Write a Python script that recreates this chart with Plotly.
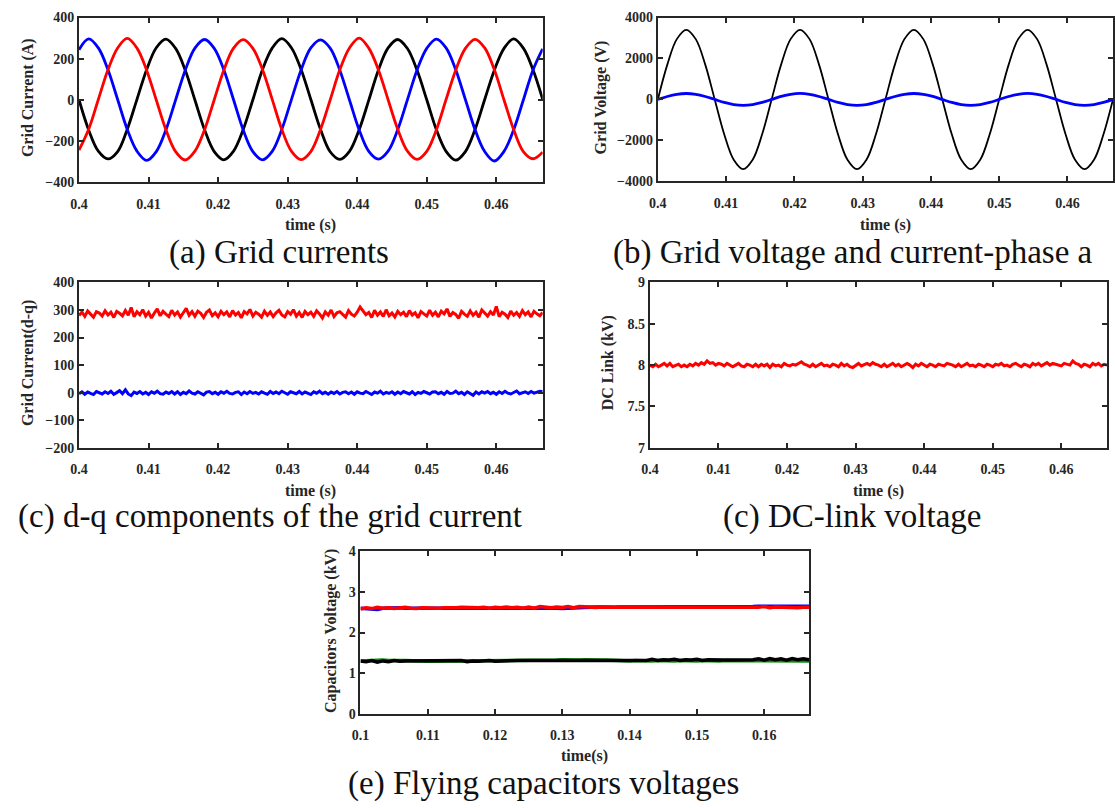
import plotly.graph_objects as go

W, H = 1115, 808

# ---------------- data ----------------
# (a) three-phase grid currents, sampled every 1/720 s from t = 0.4 s
CUR_T0, CUR_DT = 0.4, 1 / 720
ia_black = [0, -147, -250, -288, -252, -143, 2, 146, 253, 295, 250, 144,
            -1, -146, -252, -292, -250, -145, 0, 147, 251, 297, 252, 146,
            1, -144, -253, -290, -251, -146, -2, 145, 252, 293, 249, 143,
            0, -146, -251, -294, -252, -145, 1, 144, 250, 296, 251, 146,
            2]
ib_blue = [243, 296, 252, 146, 1, -145, -250, -295, -252, -146, -1, 144,
           251, 293, 250, 145, 0, -147, -252, -292, -251, -144, 2, 146,
           252, 291, 251, 144, -1, -146, -251, -289, -250, -145, 0, 145,
           250, 295, 252, 146, 1, -145, -252, -298, -251, -146, -1, 145,
           248]
ic_red = [-245, -144, 1, 146, 252, 298, 251, 144, -1, -146, -252, -293,
          -250, -146, 0, 145, 251, 292, 250, 146, 2, -145, -251, -291,
          -252, -145, -1, 146, 252, 300, 251, 145, 0, -144, -250, -290,
          -251, -146, 1, 144, 250, 294, 252, 146, -1, -145, -252, -287,
          -255]

# (b) phase-a grid voltage and current
grid_voltage = [0, 1700, 2944, 3400, 2944, 1700, 0, -1700, -2944, -3400, -2944, -1700,
                0, 1700, 2944, 3400, 2944, 1700, 0, -1700, -2944, -3400, -2944, -1700,
                0, 1700, 2944, 3400, 2944, 1700, 0, -1700, -2944, -3400, -2944, -1700,
                0, 1700, 2944, 3400, 2944, 1700, 0, -1700, -2944, -3400, -2944, -1700,
                0]
phase_a_current = [0, 145, 251, 290, 251, 145, 0, -145, -251, -290, -251, -145,
                   0, 146, 252, 292, 250, 145, 0, -146, -250, -289, -251, -144,
                   0, 145, 251, 291, 251, 146, 0, -145, -252, -290, -250, -145,
                   0, 144, 251, 293, 252, 145, 0, -146, -251, -290, -251, -145,
                   0]

# (c) d-q grid current components and (d) DC link, sampled every 1/2400 s
DQ_T0, DQ_DT = 0.4, 1 / 2400
i_d = [280, 293, 277, 296, 285, 274, 294, 289, 278, 297,
       282, 292, 273, 295, 288, 279, 298, 281, 309, 276,
       294, 283, 301, 278, 292, 271, 289, 304, 279, 295,
       285, 276, 299, 282, 293, 274, 290, 306, 281, 294,
       277, 296, 288, 273, 292, 300, 279, 290, 276, 295,
       283, 293, 275, 298, 282, 291, 272, 294, 286, 302,
       278, 292, 285, 274, 296, 281, 293, 276, 290, 299,
       282, 275, 294, 285, 301, 278, 291, 273, 295, 283,
       292, 277, 297, 286, 271, 293, 281, 300, 276, 290,
       294, 282, 274, 298, 285, 278, 292, 311, 296, 283,
       291, 273, 299, 281, 293, 277, 301, 279, 289, 275,
       295, 283, 292, 276, 298, 282, 290, 272, 294, 285,
       278, 299, 281, 292, 275, 296, 286, 304, 277, 291,
       284, 270, 295, 285, 277, 297, 281, 292, 274, 300,
       287, 278, 294, 282, 313, 276, 292, 285, 273, 296,
       281, 291, 277, 298, 283, 293, 275, 295, 286, 279,
       291]
i_q = [-4, 3, -6, 2, -3, -7, 4, -2, -5, 3,
       -3, 5, -6, 0, 7, -4, 10, -5, -11, 2,
       -3, 4, -5, 1, -7, 3, -2, 5, -4, -6,
       2, -3, 4, -5, 3, -7, 1, -4, 6, -2,
       -5, 3, -3, -8, 2, 4, -4, 1, -6, 3,
       -2, 5, -3, -5, 1, 3, -7, 2, -4, 4,
       -3, 1, -5, 3, -2, -6, 4, -3, 2, -4,
       5, -2, -6, 3, 0, -4, 4, -5, 2, -3,
       -7, 3, -2, 5, -4, 1, -6, 2, -3, 4,
       -5, 1, 3, -4, 2, -6, 3, -2, -4, 4,
       -3, -7, 2, -2, 5, -5, 1, -3, 3, -6,
       2, -4, 4, -2, -5, 3, -7, 1, -3, 4,
       -2, -5, 2, 3, -4, 1, -6, 4, -3, -2,
       5, -4, 1, -7, 3, -3, -10, 2, -5, 3,
       -2, 4, -4, 1, -6, 3, -3, 5, -2, -5,
       2, 6, -4, 1, 3, -3, 4, -2, 2, 5,
       3]
dc_link = [8.00, 7.98, 8.01, 7.98, 8.00, 8.02, 7.99, 8.02, 7.98, 8.00,
           8.01, 7.98, 8.00, 7.98, 8.01, 7.99, 8.02, 8.00, 8.03, 8.01,
           8.05, 8.02, 8.03, 8.00, 8.02, 8.01, 7.99, 8.02, 8.00, 7.98,
           8.00, 8.02, 7.99, 7.98, 8.01, 8.00, 7.98, 8.01, 7.98, 8.01,
           7.99, 8.01, 7.97, 8.01, 7.99, 8.00, 7.98, 8.02, 8.00, 7.99,
           8.01, 8.00, 8.02, 8.04, 8.01, 8.00, 7.98, 8.01, 7.98, 8.00,
           8.02, 7.99, 8.00, 7.98, 8.01, 8.00, 7.98, 8.02, 7.99, 8.01,
           7.98, 7.97, 8.00, 8.02, 7.99, 8.01, 8.02, 8.00, 8.03, 8.01,
           8.00, 7.98, 8.01, 7.98, 8.00, 8.02, 7.99, 8.01, 7.98, 8.00,
           8.02, 8.00, 7.97, 8.01, 7.99, 8.02, 8.00, 7.98, 8.01, 8.00,
           7.98, 8.01, 8.00, 7.99, 8.02, 8.01, 8.00, 7.98, 8.01, 7.98,
           8.00, 8.02, 7.99, 8.00, 7.98, 8.01, 8.00, 7.98, 8.01, 8.00,
           7.98, 8.01, 8.00, 8.02, 7.99, 8.00, 7.98, 8.01, 8.02, 8.00,
           7.98, 8.01, 8.00, 7.98, 8.02, 8.00, 8.02, 7.99, 8.01, 8.03,
           8.00, 8.02, 8.01, 8.00, 7.99, 8.02, 8.01, 8.00, 8.05, 8.02,
           8.01, 7.98, 8.01, 8.00, 7.98, 8.02, 8.00, 8.02, 7.99, 8.01,
           8.00]

# (e) flying capacitor voltages (kV), sampled every 1/1200 s from t = 0.1 s
FC_T0, FC_DT = 0.1, 1 / 1200
vc_blue = [2.60, 2.59, 2.58, 2.57, 2.60, 2.61, 2.60, 2.61, 2.60, 2.60,
           2.61, 2.61, 2.60, 2.61, 2.61, 2.61, 2.62, 2.61, 2.61, 2.60,
           2.60, 2.61, 2.61, 2.61, 2.62, 2.61, 2.61, 2.62, 2.62, 2.61,
           2.62, 2.62, 2.62, 2.62, 2.61, 2.60, 2.59, 2.60, 2.61, 2.62,
           2.62, 2.63, 2.63, 2.63, 2.62, 2.62, 2.63, 2.63, 2.62, 2.63,
           2.63, 2.63, 2.63, 2.63, 2.62, 2.63, 2.63, 2.63, 2.63, 2.63,
           2.63, 2.63, 2.63, 2.63, 2.64, 2.63, 2.63, 2.63, 2.64, 2.64,
           2.64, 2.65, 2.65, 2.65, 2.65, 2.66, 2.65, 2.65, 2.65, 2.65,
           2.65]
vc_red = [2.58, 2.61, 2.59, 2.62, 2.60, 2.61, 2.59, 2.60, 2.62, 2.60,
          2.59, 2.61, 2.60, 2.61, 2.60, 2.61, 2.60, 2.61, 2.62, 2.61,
          2.62, 2.61, 2.62, 2.60, 2.62, 2.61, 2.63, 2.61, 2.62, 2.60,
          2.63, 2.60, 2.64, 2.62, 2.61, 2.63, 2.62, 2.64, 2.61, 2.64,
          2.63, 2.62, 2.62, 2.63, 2.63, 2.62, 2.62, 2.62, 2.63, 2.62,
          2.61, 2.62, 2.63, 2.62, 2.61, 2.62, 2.62, 2.63, 2.62, 2.62,
          2.62, 2.62, 2.63, 2.62, 2.62, 2.62, 2.63, 2.62, 2.62, 2.62,
          2.61, 2.62, 2.64, 2.61, 2.63, 2.62, 2.61, 2.62, 2.61, 2.62,
          2.62]
vc_green = [1.30, 1.31, 1.30, 1.31, 1.32, 1.31, 1.32, 1.31, 1.31, 1.30,
            1.29, 1.30, 1.29, 1.29, 1.30, 1.29, 1.30, 1.30, 1.30, 1.31,
            1.30, 1.31, 1.32, 1.30, 1.32, 1.31, 1.31, 1.31, 1.31, 1.31,
            1.31, 1.31, 1.31, 1.31, 1.31, 1.32, 1.33, 1.32, 1.33, 1.32,
            1.33, 1.32, 1.33, 1.32, 1.32, 1.31, 1.30, 1.31, 1.30, 1.31,
            1.30, 1.31, 1.30, 1.31, 1.30, 1.31, 1.30, 1.31, 1.30, 1.31,
            1.30, 1.31, 1.30, 1.31, 1.30, 1.31, 1.31, 1.31, 1.31, 1.31,
            1.32, 1.30, 1.31, 1.30, 1.31, 1.30, 1.31, 1.30, 1.31, 1.30,
            1.30]
vc_black = [1.30, 1.28, 1.31, 1.27, 1.30, 1.28, 1.31, 1.29, 1.30, 1.30,
            1.29, 1.30, 1.30, 1.30, 1.30, 1.30, 1.30, 1.30, 1.31, 1.28,
            1.30, 1.29, 1.30, 1.31, 1.29, 1.30, 1.31, 1.31, 1.31, 1.31,
            1.31, 1.31, 1.31, 1.31, 1.31, 1.31, 1.32, 1.31, 1.32, 1.31,
            1.32, 1.31, 1.32, 1.31, 1.31, 1.31, 1.31, 1.32, 1.31, 1.32,
            1.33, 1.31, 1.34, 1.31, 1.33, 1.32, 1.34, 1.31, 1.33, 1.32,
            1.34, 1.31, 1.33, 1.32, 1.33, 1.32, 1.32, 1.32, 1.32, 1.32,
            1.33, 1.35, 1.32, 1.36, 1.33, 1.35, 1.32, 1.36, 1.33, 1.35,
            1.33]

# tick positions and labels
x_ticks_grid = [0.40, 0.41, 0.42, 0.43, 0.44, 0.45, 0.46]
x_labels_grid = ["0.4", "0.41", "0.42", "0.43", "0.44", "0.45", "0.46"]
x_ticks_fc = [0.10, 0.11, 0.12, 0.13, 0.14, 0.15, 0.16]
x_labels_fc = ["0.1", "0.11", "0.12", "0.13", "0.14", "0.15", "0.16"]
y_ticks_a = [-400, -200, 0, 200, 400]
y_ticks_b = [-4000, -2000, 0, 2000, 4000]
y_ticks_c = [-200, -100, 0, 100, 200, 300, 400]
y_ticks_d = [7, 7.5, 8, 8.5, 9]
y_labels_d = ["7", "7.5", "8", "8.5", "9"]
y_ticks_e = [0, 1, 2, 3, 4]

# ---------------- layout helpers ----------------
def px_x(v):
    return v / W


def px_y(v):
    return 1 - v / H


SERIF = "'Liberation Serif', 'Times New Roman', Times, 'DejaVu Serif', serif"
AX_COLOR = "#262626"
TICK_FONT = dict(family=SERIF, size=14, color="#262626", weight="bold")
XTITLE_FONT = dict(family=SERIF, size=16, color="#262626", weight="bold")
YTITLE_FONT = dict(family=SERIF, size=16, color="#262626", weight="bold")
CAPTION_FONT = dict(family=SERIF, size=33, color="#111111")


def axis_style(**kw):
    base = dict(showline=True, linecolor=AX_COLOR, linewidth=2, mirror="allticks",
                ticks="inside", ticklen=5, tickwidth=1.5, tickcolor=AX_COLOR,
                showgrid=False, zeroline=False, tickfont=TICK_FONT)
    base.update(kw)
    return base


fig = go.Figure()

# panel (a)
for series, color in ((ia_black, "#000000"), (ib_blue, "#0000ff"), (ic_red, "#ff0000")):
    fig.add_trace(go.Scatter(y=series, x0=CUR_T0, dx=CUR_DT, mode="lines",
                             line=dict(color=color, width=2.8, shape="spline"),
                             xaxis="x", yaxis="y"))

# panel (b)
fig.add_trace(go.Scatter(y=grid_voltage, x0=CUR_T0, dx=CUR_DT, mode="lines",
                         line=dict(color="#000000", width=1.8, shape="spline"),
                         xaxis="x2", yaxis="y2"))
fig.add_trace(go.Scatter(y=phase_a_current, x0=CUR_T0, dx=CUR_DT, mode="lines",
                         line=dict(color="#0000ff", width=2.8, shape="spline"),
                         xaxis="x2", yaxis="y2"))

# panel (c)
fig.add_trace(go.Scatter(y=i_d, x0=DQ_T0, dx=DQ_DT, mode="lines",
                         line=dict(color="#ff0000", width=3),
                         xaxis="x3", yaxis="y3"))
fig.add_trace(go.Scatter(y=i_q, x0=DQ_T0, dx=DQ_DT, mode="lines",
                         line=dict(color="#0000ff", width=3),
                         xaxis="x3", yaxis="y3"))

# panel (d)
fig.add_trace(go.Scatter(y=dc_link, x0=DQ_T0, dx=DQ_DT, mode="lines",
                         line=dict(color="#ff0000", width=3),
                         xaxis="x4", yaxis="y4"))

# panel (e)
for series, color in ((vc_blue, "#0000ff"), (vc_red, "#ff0000"),
                      (vc_green, "#0a8a0a"), (vc_black, "#000000")):
    fig.add_trace(go.Scatter(y=series, x0=FC_T0, dx=FC_DT, mode="lines",
                             line=dict(color=color, width=3.5),
                             xaxis="x5", yaxis="y5"))

# axis frames, in pixels: left, right, top, bottom
boxes = {
    "a": (70.7, 539.0, 10.7, 178.3),
    "b": (655.3, 1115.0, 10.7, 177.7),
    "c": (70.7, 539.0, 280.7, 449.0),
    "d": (647.3, 1109.0, 280.7, 449.0),
    "e": (355.0, 808.0, 554.7, 720.0),
}


def dom(box):
    l, r, t, b = box
    return [px_x(l), px_x(r)], [px_y(b), px_y(t)]


xa, ya = dom(boxes["a"])
xb, yb = dom(boxes["b"])
xc, yc = dom(boxes["c"])
xd, yd = dom(boxes["d"])
xe, ye = dom(boxes["e"])

GRID_RANGE = [0.4, 0.46667]
FC_RANGE = [0.1, 0.16667]

fig.update_layout(
    width=W, height=H,
    margin=dict(l=0, r=0, t=0, b=0),
    paper_bgcolor="white", plot_bgcolor="white",
    showlegend=False,
    xaxis=axis_style(domain=xa, anchor="y", range=GRID_RANGE,
                     tickvals=x_ticks_grid, ticktext=x_labels_grid, ticklabelstandoff=8),
    yaxis=axis_style(domain=ya, anchor="x", range=[-400, 400], tickvals=y_ticks_a),
    xaxis2=axis_style(domain=xb, anchor="y2", range=GRID_RANGE,
                      tickvals=x_ticks_grid, ticktext=x_labels_grid, ticklabelstandoff=8),
    yaxis2=axis_style(domain=yb, anchor="x2", range=[-4000, 4000], tickvals=y_ticks_b),
    xaxis3=axis_style(domain=xc, anchor="y3", range=GRID_RANGE,
                      tickvals=x_ticks_grid, ticktext=x_labels_grid, ticklabelstandoff=8),
    yaxis3=axis_style(domain=yc, anchor="x3", range=[-200, 400], tickvals=y_ticks_c),
    xaxis4=axis_style(domain=xd, anchor="y4", range=GRID_RANGE,
                      tickvals=x_ticks_grid, ticktext=x_labels_grid, ticklabelstandoff=8),
    yaxis4=axis_style(domain=yd, anchor="x4", range=[7, 9],
                      tickvals=y_ticks_d, ticktext=y_labels_d),
    xaxis5=axis_style(domain=xe, anchor="y5", range=FC_RANGE,
                      tickvals=x_ticks_fc, ticktext=x_labels_fc, ticklabelstandoff=8),
    yaxis5=axis_style(domain=ye, anchor="x5", range=[0, 4], tickvals=y_ticks_e),
)

annotations = []


def text_at(x_px, y_px, text, font, angle=0):
    annotations.append(dict(x=px_x(x_px), y=px_y(y_px), xref="paper", yref="paper",
                            text=text, showarrow=False, font=font, textangle=angle,
                            xanchor="center", yanchor="middle"))


# x-axis titles
text_at(305, 222, "time (s)", XTITLE_FONT)
text_at(885, 222, "time (s)", XTITLE_FONT)
text_at(305, 493, "time (s)", XTITLE_FONT)
text_at(878, 493, "time (s)", XTITLE_FONT)
text_at(581, 763, "time(s)", XTITLE_FONT)

# y-axis titles
text_at(19, 92, "Grid Current (A)", YTITLE_FONT, -90)
text_at(598, 92, "Grid Voltage (V)", YTITLE_FONT, -90)
text_at(19, 363, "Grid Current(d-q)", YTITLE_FONT, -90)
text_at(605, 363, "DC Link (kV)", YTITLE_FONT, -90)
text_at(325, 636, "Capacitors Voltage (kV)", YTITLE_FONT, -90)

# sub-figure captions
text_at(273, 250, "(a) Grid currents", CAPTION_FONT)
text_at(852, 250, "(b) Grid voltage and current-phase a", CAPTION_FONT)
text_at(264, 519, "(c) d-q components of the grid current", CAPTION_FONT)
text_at(851, 519, "(c) DC-link voltage", CAPTION_FONT)
text_at(540, 791, "(e) Flying capacitors voltages", CAPTION_FONT)

fig.update_layout(annotations=annotations)

fig.write_html("out.html",
               post_script="document.body.style.margin='0';"
                           "document.body.style.overflow='hidden';")
